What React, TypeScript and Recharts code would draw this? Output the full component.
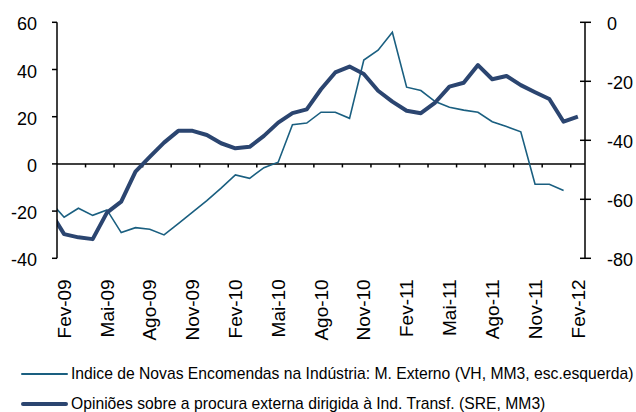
import React from 'react';
import { LineChart, Line, XAxis, YAxis, ReferenceLine, Legend } from 'recharts';

// months shown on the axis (Jan-09 is only the clipped entry point at the left edge)
const months = [
  'Jan-09', 'Fev-09', 'Mar-09', 'Abr-09', 'Mai-09', 'Jun-09', 'Jul-09', 'Ago-09', 'Set-09', 'Out-09', 'Nov-09', 'Dez-09',
  'Jan-10', 'Fev-10', 'Mar-10', 'Abr-10', 'Mai-10', 'Jun-10', 'Jul-10', 'Ago-10', 'Set-10', 'Out-10', 'Nov-10', 'Dez-10',
  'Jan-11', 'Fev-11', 'Mar-11', 'Abr-11', 'Mai-11', 'Jun-11', 'Jul-11', 'Ago-11', 'Set-11', 'Out-11', 'Nov-11', 'Dez-11',
  'Jan-12', 'Fev-12',
];

// Indice de Novas Encomendas na Indústria: M. Externo (VH, MM3) - left axis
const novasEncomendas = [
  -15.8, -22.6, -18.8, -21.8, -19.5, -29.1, -27.0, -27.7, -30.1, -25.3, -20.4, -15.6,
  -10.3, -4.7, -6.1, -1.6, 0.7, 16.6, 17.3, 21.9, 21.9, 19.3, 44.0, 48.2,
  55.8, 32.5, 31.1, 26.4, 24.0, 22.8, 21.9, 17.9, 15.8, 13.6, -8.6, -8.6,
  -11.3, null,
];

// Opiniões sobre a procura externa dirigida à Ind. Transf. (SRE, MM3) - right axis
const procuraExterna = [
  -64.0, -71.8, -72.9, -73.5, -64.5, -60.8, -50.6, -45.6, -40.8, -36.8, -36.8, -38.2,
  -41.0, -42.7, -42.2, -38.5, -34.0, -30.8, -29.5, -22.7, -17.0, -15.0, -17.5, -23.2,
  -26.9, -30.0, -30.8, -27.2, -21.8, -20.5, -14.5, -19.3, -18.2, -21.3, -23.7, -26.0,
  -33.7, -32.0,
];

const leftTicks = [-40, -20, 0, 20, 40, 60];
const rightTicks = [-80, -60, -40, -20, 0];

const seriesNames = [
  'Indice de Novas Encomendas na Indústria: M. Externo (VH, MM3, esc.esquerda)',
  'Opiniões sobre a procura externa dirigida à Ind. Transf. (SRE, MM3)',
];
const seriesColors = ['#1a5f80', '#2b4570'];
const seriesWidths = [1.6, 4];

const data = months.map((m, i) => ({
  x: i,
  mes: m,
  novas: novasEncomendas[i],
  procura: procuraExterna[i],
}));

const labelTicks = months.map((_, i) => i).filter(i => i >= 1 && (i - 1) % 3 === 0);
const tickMarks = months.map((_, i) => i + 0.5).filter(t => t >= 2 && t < months.length - 1 && (t - 0.5) % 2 === 0);

const FONT = "'Liberation Sans', Arial, sans-serif";

const XTick = (props: any) => {
  const { x, y, payload } = props;
  return (
    <text
      x={x}
      y={y}
      transform={`rotate(-90, ${x}, ${y})`}
      textAnchor="end"
      dy="0.35em"
      fontSize={19}
      fontFamily={FONT}
      fill="#000"
    >
      {months[payload.value]}
    </text>
  );
};

const LeftTick = (props: any) => {
  const { x, y, payload } = props;
  return (
    <text x={x} y={y} textAnchor="end" dy="0.45em" fontSize={18} fontFamily={FONT} fill="#000">
      {payload.value}
    </text>
  );
};

const RightTick = (props: any) => {
  const { x, y, payload } = props;
  return (
    <g>
      <line x1={x - 5} x2={x + 6} y1={y} y2={y} stroke="#000" strokeWidth={1.5} />
      <text x={x + 22} y={y} textAnchor="start" dy="0.45em" fontSize={18} fontFamily={FONT} fill="#000">
        {payload.value}
      </text>
    </g>
  );
};

const renderLegend = () => (
  <div style={{ position: 'relative', height: 52, fontFamily: FONT }}>
    {seriesNames.map((name, i) => (
      <div
        key={name}
        style={{ position: 'absolute', left: 0, top: 4 + i * 30, height: 20, display: 'flex', alignItems: 'center', whiteSpace: 'nowrap' }}
      >
        <span style={{ display: 'inline-block', marginLeft: 21, width: 47, height: seriesWidths[i], background: seriesColors[i], borderRadius: 2 }} />
        <span style={{ marginLeft: 3, fontSize: 15.7, lineHeight: '20px', color: '#000' }}>{name}</span>
      </div>
    ))}
  </div>
);

export default function App() {
  return (
    <div style={{ position: 'absolute', left: 0, top: 0, width: 636, height: 412, background: '#fff' }}>
      <LineChart width={636} height={412} data={data} margin={{ top: 22.3, right: 0, bottom: 93.7, left: 0 }}>
        <XAxis
          type="number"
          dataKey="x"
          domain={[0.5, months.length - 0.5]}
          allowDataOverflow
          ticks={labelTicks}
          interval={0}
          axisLine={false}
          tickLine={false}
          tickSize={0}
          tickMargin={21}
          height={60}
          tick={<XTick />}
        />
        <YAxis
          yAxisId="left"
          domain={[-40, 60]}
          ticks={leftTicks}
          interval={0}
          width={57}
          axisLine={{ stroke: '#000', strokeWidth: 1.5 }}
          tickLine={{ stroke: '#000', strokeWidth: 1.5 }}
          tickSize={5}
          tickMargin={15}
          tick={<LeftTick />}
        />
        <YAxis
          yAxisId="right"
          orientation="right"
          domain={[-80, 0]}
          ticks={rightTicks}
          interval={0}
          width={51}
          axisLine={{ stroke: '#000', strokeWidth: 1.5 }}
          tickLine={false}
          tickSize={0}
          tickMargin={0}
          tick={<RightTick />}
        />
        <ReferenceLine yAxisId="left" y={0} stroke="#000" strokeWidth={1.5} />
        {tickMarks.map(t => (
          <ReferenceLine
            key={t}
            yAxisId="left"
            segment={[{ x: t, y: 0 }, { x: t, y: -1.5 }]}
            stroke="#000"
            strokeWidth={1.5}
          />
        ))}
        <Line
          yAxisId="left"
          dataKey="novas"
          name={seriesNames[0]}
          stroke={seriesColors[0]}
          strokeWidth={seriesWidths[0]}
          dot={false}
          activeDot={false}
          isAnimationActive={false}
        />
        <Line
          yAxisId="right"
          dataKey="procura"
          name={seriesNames[1]}
          stroke={seriesColors[1]}
          strokeWidth={seriesWidths[1]}
          strokeLinejoin="round"
          dot={false}
          activeDot={false}
          isAnimationActive={false}
        />
        <Legend
          layout="horizontal"
          verticalAlign="middle"
          align="center"
          wrapperStyle={{ top: 360, left: 0, width: 636 }}
          content={renderLegend}
        />
      </LineChart>
    </div>
  );
}
